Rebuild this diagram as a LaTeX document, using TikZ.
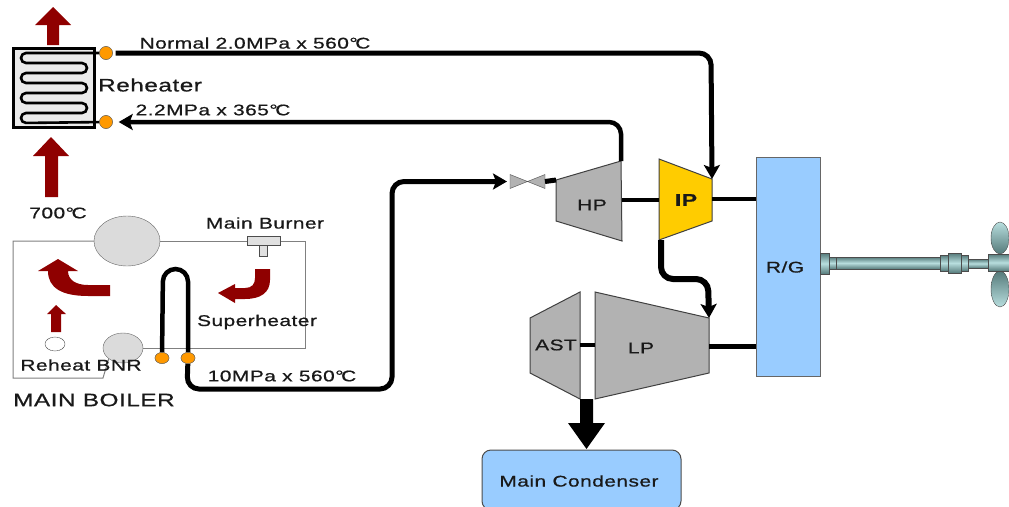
\documentclass[tikz,border=0pt]{standalone}
\usepackage{fontspec}
\setmainfont[FakeStretch=1.35,LetterSpace=3,FakeBold=0.7]{Liberation Sans}
\usetikzlibrary{arrows.meta,shapes.geometric}
\definecolor{darkred}{HTML}{8F0000}
\definecolor{steamgray}{HTML}{B2B2B2}
\definecolor{ipyellow}{HTML}{FFCC00}
\definecolor{rgblue}{HTML}{99CCFF}
\definecolor{dotorange}{HTML}{FF9900}
\definecolor{shaftdark}{HTML}{557A7A}
\definecolor{shaftlight}{HTML}{B8DEDE}
\newcommand{\degC}{°\kern-2.5pt C}
\tikzset{
	lbl/.style={inner sep=0, font=\fontsize{15.5}{18}\selectfont, text=black!90},
	biglbl/.style={lbl, font=\fontsize{18}{20}\selectfont},
	dot/.style={ellipse, draw=black!60, fill=dotorange, inner sep=0, minimum width=#1, minimum height=11},
	pipe/.style={line width=5, rounded corners=12},
	tip/.style={-{Stealth[length=14, width=16, inset=3]}},
	casing/.style={draw=black!75, line width=1, fill=steamgray},
	hot/.style={fill=darkred, draw=none},
	wall/.style={draw=black!50, line width=1},
	shaft/.style={draw=black!70, line width=0.7, top color=shaftdark, bottom color=shaftdark, middle color=shaftlight},
}
\begin{document}
\begin{tikzpicture}[x=1pt, y=-1pt]
\useasboundingbox (0, 0) rectangle (1009, 506);

% reheater
\node[draw, line width=3, fill=black!8, inner sep=0, minimum width=81, minimum height=79] (reheater) at (53.5, 87.5) {};
\node[dot=13, minimum height=13] (rhOut) at (106, 53) {};
\node[dot=13, minimum height=13] (rhIn) at (106, 122) {};
\draw[line width=2.6, rounded corners=5] (rhOut) -- (21, 53) -- (21, 63) -- (87, 63) -- (87, 73) -- (21, 73) -- (21, 83) -- (87, 83) -- (87, 93) -- (21, 93) -- (21, 103) -- (87, 103) -- (87, 113) -- (21, 113) -- (21, 123) -- (rhIn);
\node[dot=13, minimum height=13] at (rhOut) {};
\node[dot=13, minimum height=13] at (rhIn) {};
\node[biglbl, anchor=west] (rhLabel) at (98, 85) {Reheater};

% hot gas arrows
\fill[hot] (53, 7) -- (71, 25) -- (59, 25) -- (59, 45) -- (47, 45) -- (47, 25) -- (35, 25) -- cycle;
\fill[hot] (51, 137) -- (69, 156) -- (58, 156) -- (58, 197) -- (45, 197) -- (45, 156) -- (33, 156) -- cycle;
\fill[hot] (56, 305) -- (66, 314) -- (61, 314) -- (61, 332) -- (51, 332) -- (51, 314) -- (47, 314) -- cycle;
\fill[hot] (110, 296) -- (88, 296) .. controls (62, 296) and (48, 288) .. (48, 271) -- (38, 271) -- (58, 259) -- (78, 271) -- (68, 271) .. controls (68, 280) and (76, 285) .. (88, 285) -- (110, 285) -- cycle;
\fill[hot] (270, 269) -- (270, 280) .. controls (270, 293) and (260, 299) .. (245, 299) -- (235, 299) -- (235, 303) -- (218, 293) -- (235, 284) -- (235, 288) -- (245, 288) .. controls (252, 288) and (255, 284) .. (255, 278) -- (255, 269) -- cycle;

% boiler
\node[ellipse, draw=black!60, fill=black!14, inner sep=0, minimum width=66, minimum height=50] (drum) at (127, 241) {};
\node[ellipse, draw=black!60, fill=black!14, inner sep=0, minimum width=40, minimum height=30] (mud) at (123, 348) {};
\node[ellipse, draw=black!70, fill=white, inner sep=0, minimum width=20, minimum height=14] (reheatBnr) at (55, 344) {};
\coordinate (wallA) at (13, 241);
\coordinate (wallB) at (13, 378);
\coordinate (wallC) at (103, 378);
\coordinate (wallD) at (305, 241);
\coordinate (wallE) at (305, 348);
\draw[wall] (drum.west) -- (wallA) -- (wallB) -- (wallC) -- (mud.south west);
\draw[wall] (drum.east) -- (wallD) -- (wallE) -- (mud.east);
\node[draw=black!70, fill=black!12, inner sep=0, minimum width=33, minimum height=9] (burner) at (263.5, 240.5) {};
\node[draw=black!70, fill=black!12, inner sep=0, minimum width=8, minimum height=11, anchor=north] (burnerTip) at (burner.south) {};

% superheater
\node[dot=14] (shIn) at (162, 358) {};
\node[dot=14] (shOut) at (188, 358) {};
\draw[line width=4.5, rounded corners=12.5] (shIn) -- (163, 269) -- (188, 269) -- (shOut);
\node[dot=14] at (shIn) {};

% turbines
\draw[casing] (556, 180) coordinate (hpIn) -- (621, 161) coordinate (hpExh) -- (622, 241) -- (556, 221) -- cycle;
\draw[casing, fill=ipyellow] (659, 159) -- (712, 179) coordinate (ipIn) -- (712, 221) -- (659, 240) coordinate (ipExh) -- cycle;
\draw[casing] (530, 318) -- (580, 292) -- (580, 399) coordinate (astExh) -- (530, 373) -- cycle;
\draw[casing] (595, 292) -- (709, 318) coordinate (lpIn) -- (709, 373) -- (595, 399) -- cycle;
\node[lbl] (hp) at (592, 205) {HP};
\node[biglbl, font=\fontsize{17}{20}\bfseries\selectfont] (ip) at (686, 200) {IP};
\node[lbl] (ast) at (556, 345) {AST};
\node[lbl] (lp) at (641, 348) {LP};
\node[draw=black!60, fill=rgblue, inner sep=0, minimum width=64, minimum height=219] (rg) at (788, 266.5) {};
\node[lbl] (rgLabel) at (785, 267) {R/G};
\node[draw=black!70, line width=1, fill=rgblue, rounded corners=9, inner sep=0, minimum width=199, minimum height=60] (condenser) at (581.5, 480) {};
\node[lbl] (condLabel) at (579, 481) {Main Condenser};

% valve
\coordinate (valveL) at (510, 181.5);
\coordinate (valveR) at (545, 181.5);
\draw[draw=black!70, fill=steamgray] (valveL) ++(0, -7) -- ++(35, 14) -- ++(0, -14) -- ++(-35, 14) -- cycle;

% steam lines
\coordinate (shBend1) at (187, 389);
\coordinate (shBend2) at (392, 389);
\coordinate (shBend3) at (392, 181.5);
\draw[pipe, tip, shorten >=3] (shOut) -- (shBend1) -- (shBend2) -- (shBend3) -- (valveL);
\node[dot=14] at (shOut) {};
\draw[line width=5] (valveR) -- (hpIn);
\draw[line width=4.5, rounded corners=12, tip, shorten >=6] (hpExh) -- (621, 122) -- (rhIn);
\draw[line width=5, rounded corners=12, tip, shorten <=3] (rhOut) -- (711, 53) -- (ipIn);
\draw[line width=6, rounded corners=12, tip] (ipExh) ++(2, 0) -- (661, 279) -- (708, 279) -- (lpIn);
\draw[line width=4.5] (622, 200) -- (659, 200);
\draw[line width=4.5] (712, 199) -- (rg.west |- 712, 199);
\draw[line width=5] (709, 346) -- (rg.west |- 709, 346);
\draw[line width=4.5] (580, 345) -- (595, 345);
\fill (580, 399) -- (593, 399) -- (593, 423) -- (605, 423) -- (586.5, 449) -- (568, 423) -- (580, 423) -- cycle;

% labels
\node[lbl] (normal) at (255, 43) {Normal 2.0MPa x 560\degC};
\node[lbl] (cold) at (213, 110) {2.2MPa x 365\degC};
\node[lbl] (gas) at (58, 213) {700\degC};
\node[lbl] (burnerLabel) at (265, 223) {Main Burner};
\node[lbl] (shLabel) at (257, 322) {Superheater};
\node[lbl] (bnrLabel) at (81, 365) {Reheat BNR};
\node[lbl] (mainLabel) at (282, 376) {10MPa x 560\degC};
\node[biglbl, anchor=west] (boiler) at (13, 400) {MAIN BOILER};

% shaft and propeller
\foreach \xa/\xb/\ya/\yb in {
	829/836/257/269,
	836/940/257/269,
	968/988/259/268,
	940/948/255/271,
	961/968/255/271,
	948/961/253/273,
	820/829/253/274}
	\draw[shaft] (\xa, \ya) rectangle (\xb, \yb);
\draw[draw=black!70, top color=shaftlight, bottom color=shaftdark] (1000, 238) ellipse (9 and 16);
\draw[draw=black!70, top color=shaftdark, bottom color=shaftlight] (1000, 289) ellipse (9 and 18);
\draw[shaft] (988, 254) rectangle (1012, 271);

\end{tikzpicture}
\end{document}
